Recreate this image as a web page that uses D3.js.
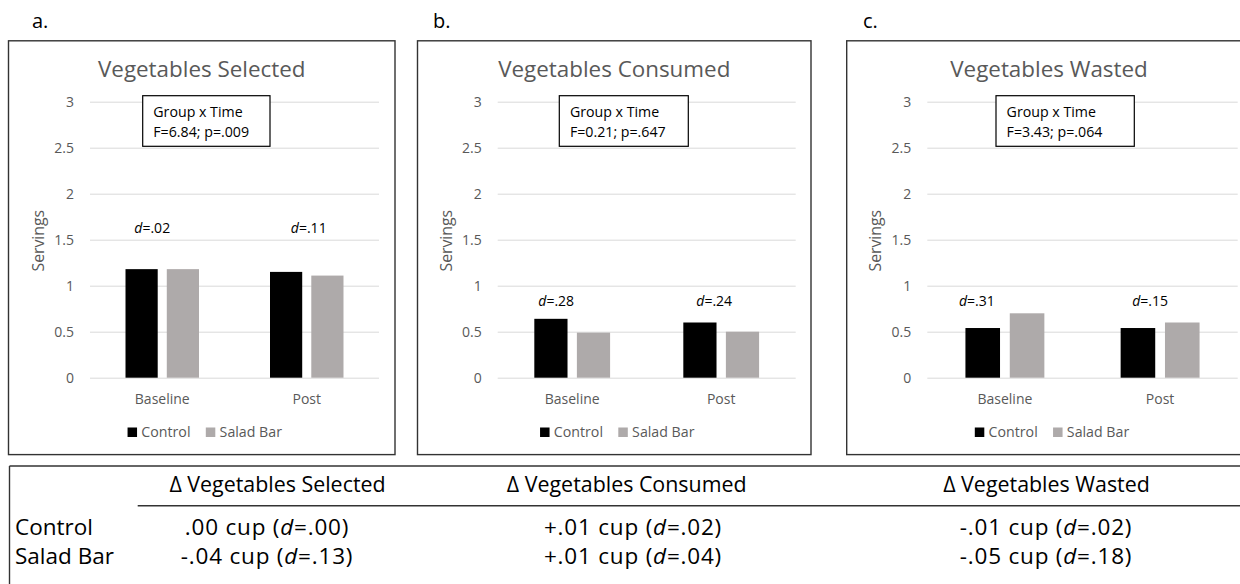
<!DOCTYPE html>
<html>
<head>
<meta charset="utf-8">
<script src="https://cdn.jsdelivr.net/npm/d3@7"></script>
<style>
  body { margin: 0; background: #fff; }
  svg { display: block; }
  text { font-family: "Open Sans", sans-serif; }
</style>
</head>
<body>
<svg id="fig" width="1240" height="584"></svg>
<script>
// ---- data ----
const timepoints = ["Baseline", "Post"];
const groups = ["Control", "Salad Bar"];
const panelLetters = ["a.", "b.", "c."];
const panelTitles = ["Vegetables Selected", "Vegetables Consumed", "Vegetables Wasted"];
// servings, indexed [timepoint][group]
const selectedServings = [[1.18, 1.18], [1.15, 1.11]];
const consumedServings = [[0.64, 0.49], [0.60, 0.50]];
const wastedServings   = [[0.54, 0.70], [0.54, 0.60]];
// Cohen's d between groups at each timepoint
const effectSizes = [[".02", ".11"], [".28", ".24"], [".31", ".15"]];
const interactionTests = ["F=6.84; p=.009", "F=0.21; p=.647", "F=3.43; p=.064"];
const yTicks = [0, 0.5, 1, 1.5, 2, 2.5, 3];
const yTickLabels = ["0", "0.5", "1", "1.5", "2", "2.5", "3"];
// change table
const tableColumns = ["Δ Vegetables Selected", "Δ Vegetables Consumed", "Δ Vegetables Wasted"];
const tableRows = ["Control", "Salad Bar"];
const changeCups = [[".00", "+.01", "-.01"], ["-.04", "+.01", "-.05"]];
const changeD    = [[".00", ".02", ".02"], [".13", ".04", ".18"]];

const panelValues = [selectedServings, consumedServings, wastedServings];

// ---- layout ----
const frames = [
  { x0: 8.5,   x1: 395,    letterX: 32,  plotL: 90,    plotR: 379,    boxX: 142.7, boxW: 127.3, dLevel: 1.57, dShift: [-10, 2] },
  { x0: 417.5, x1: 811,    letterX: 433, plotL: 497.7, plotR: 795.7,  boxX: 559.3, boxW: 129,   dLevel: 0.78, dShift: [-16, -7] },
  { x0: 846.7, x1: 1251.3, letterX: 863, plotL: 927.3, plotR: 1237.7, boxX: 996,   boxW: 138.3, dLevel: 0.78, dShift: [-28, -10] }
];
const frameTop = 40.8, frameBottom = 454.6;
const yBottom = 377.7, yTop = 101.7;

const textGray = "#595959";
const groupColor = d3.scaleOrdinal().domain(groups).range(["#000000", "#AEAAAA"]);

const svg = d3.select("#fig");
svg.append("rect").attr("width", 1240).attr("height", 584).attr("fill", "#fff");

const y = d3.scaleLinear().domain([0, 3]).range([yBottom, yTop]);

frames.forEach((f, i) => {
  const g = svg.append("g");
  const cx = (f.x0 + f.x1) / 2;

  // panel letter
  g.append("text").attr("x", f.letterX).attr("y", 28)
    .attr("font-size", 20).attr("fill", "#000").text(panelLetters[i]);

  // panel frame
  g.append("rect").attr("x", f.x0).attr("y", frameTop)
    .attr("width", f.x1 - f.x0).attr("height", frameBottom - frameTop)
    .attr("fill", "none").attr("stroke", "#333").attr("stroke-width", 1.4);

  // title
  g.append("text").attr("x", cx).attr("y", 77).attr("text-anchor", "middle")
    .attr("font-size", 22.4).attr("fill", textGray).text(panelTitles[i]);

  // y axis with gridlines
  const yAxis = d3.axisLeft(y).tickValues(yTicks)
    .tickFormat((d, k) => yTickLabels[k])
    .tickSize(-(f.plotR - f.plotL)).tickPadding(16);
  const ya = g.append("g").attr("transform", `translate(${f.plotL},0)`).call(yAxis);
  ya.select(".domain").remove();
  ya.selectAll("line").attr("stroke", "#D9D9D9").attr("stroke-width", 1);
  ya.selectAll("text").attr("font-size", 14).attr("fill", textGray)
    .attr("font-family", "'Open Sans', sans-serif");

  // y title
  g.append("text")
    .attr("transform", `translate(${f.plotL - 46},${(yTop + yBottom) / 2 + 1}) rotate(-90)`)
    .attr("text-anchor", "middle").attr("font-size", 15.8).attr("fill", textGray)
    .text("Servings");

  // band scales
  const x0 = d3.scaleBand().domain(timepoints).range([f.plotL, f.plotR]).padding(0);
  const x1 = d3.scaleBand().domain(groups).range([0, x0.bandwidth()])
    .paddingInner(0.22).paddingOuter(0.86);

  // bars
  const vals = panelValues[i];
  const cells = g.append("g").selectAll("g").data(timepoints).join("g")
    .attr("transform", t => `translate(${x0(t)},0)`);
  cells.selectAll("rect")
    .data((t, ti) => groups.map((gr, gi) => ({ group: gr, value: vals[ti][gi] })))
    .join("rect")
    .attr("x", d => x1(d.group))
    .attr("y", d => y(d.value))
    .attr("width", x1.bandwidth())
    .attr("height", d => y(0) - y(d.value))
    .attr("fill", d => groupColor(d.group));

  // category axis
  const xa = g.append("g").attr("transform", `translate(0,${yBottom})`)
    .call(d3.axisBottom(x0).tickSize(0).tickPadding(16.4));
  xa.select(".domain").remove();
  xa.selectAll("text").attr("font-size", 14).attr("fill", textGray)
    .attr("font-family", "'Open Sans', sans-serif");

  // effect size labels
  timepoints.forEach((t, ti) => {
    const tx = g.append("text")
      .attr("x", x0(t) + x0.bandwidth() / 2 + f.dShift[ti])
      .attr("y", y(f.dLevel))
      .attr("text-anchor", "middle").attr("font-size", 14).attr("fill", "#000");
    tx.append("tspan").attr("font-style", "italic").text("d");
    tx.append("tspan").text("=" + effectSizes[i][ti]);
  });

  // interaction test box
  g.append("rect").attr("x", f.boxX).attr("y", 95.7)
    .attr("width", f.boxW).attr("height", 50.6)
    .attr("fill", "#fff").attr("stroke", "#000").attr("stroke-width", 1.2);
  g.append("text").attr("x", f.boxX + 10.6).attr("y", 116.7)
    .attr("font-size", 14.2).attr("fill", "#000").text("Group x Time");
  g.append("text").attr("x", f.boxX + 10.6).attr("y", 136.7)
    .attr("font-size", 14.2).attr("fill", "#000").text(interactionTests[i]);

  // legend
  const lg = g.append("g");
  let lx = 0;
  groups.forEach((gr, gi) => {
    lg.append("rect").attr("x", lx).attr("y", 427.5).attr("width", 9.5).attr("height", 9.5)
      .attr("fill", groupColor(gr));
    const t = lg.append("text").attr("x", lx + 13.8).attr("y", 437)
      .attr("font-size", 14.2).attr("fill", textGray).text(gr);
    lx += 13.8 + t.node().getComputedTextLength() + 15.3;
  });
  const lw = lx - 15.3;
  lg.attr("transform", `translate(${cx + 3 - lw / 2},0)`);
});

// ---- change table ----
const tbl = svg.append("g");
const tableTop = 466, tableLeft = 9.5;
tbl.append("line").attr("x1", tableLeft).attr("x2", 1240).attr("y1", tableTop).attr("y2", tableTop)
  .attr("stroke", "#333").attr("stroke-width", 1.4);
tbl.append("line").attr("x1", tableLeft).attr("x2", tableLeft).attr("y1", tableTop).attr("y2", 584)
  .attr("stroke", "#333").attr("stroke-width", 1.4);
tbl.append("line").attr("x1", 137.7).attr("x2", 1240).attr("y1", 505.7).attr("y2", 505.7)
  .attr("stroke", "#333").attr("stroke-width", 1.4);

const headCenters = [277.5, 626.7, 1046.5];
const bodyCenters = [267, 633, 1046];
const rowBaselines = [535, 564];

tableColumns.forEach((c, ci) => {
  tbl.append("text").attr("x", headCenters[ci]).attr("y", 492.3)
    .attr("text-anchor", "middle").attr("font-size", 21.4).attr("fill", "#000").text(c);
});
tableRows.forEach((r, ri) => {
  tbl.append("text").attr("x", 15).attr("y", rowBaselines[ri])
    .attr("font-size", 22.5).attr("fill", "#000").text(r);
  changeCups[ri].forEach((v, ci) => {
    const t = tbl.append("text").attr("x", bodyCenters[ci]).attr("y", rowBaselines[ri])
      .attr("text-anchor", "middle").attr("font-size", 22.5)
      .attr("letter-spacing", 0.8).attr("fill", "#000");
    t.append("tspan").text(v + " cup (");
    t.append("tspan").attr("font-style", "italic").text("d");
    t.append("tspan").text("=" + changeD[ri][ci] + ")");
  });
});
</script>
</body>
</html>
